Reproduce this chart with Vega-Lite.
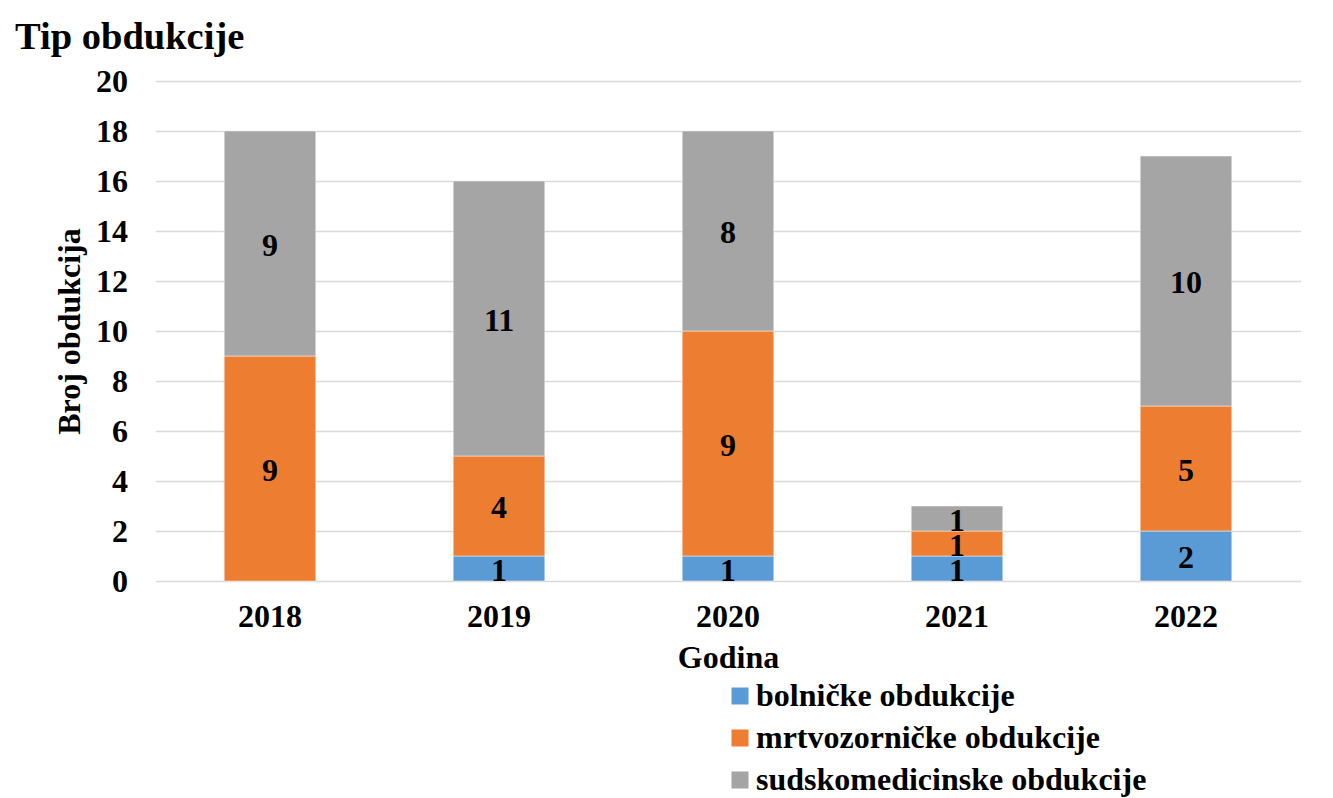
{
  "$schema": "https://vega.github.io/schema/vega-lite/v6.json",
  "autosize": "none",
  "width": 1145,
  "height": 500,
  "padding": {"left": 155.5, "top": 81, "right": 32.5, "bottom": 217},
  "background": "white",
  "config": {
    "font": "Liberation Serif",
    "view": {"stroke": null}
  },
  "title": {
    "text": "Tip obdukcije",
    "anchor": "start",
    "frame": "group",
    "dx": -140.5,
    "offset": 8,
    "font": "Liberation Serif",
    "fontSize": 38.5,
    "fontWeight": "bold",
    "color": "black"
  },
  "data": {
    "values": [
      {"Godina": "2018", "Tip": "mrtvozorničke obdukcije", "Broj": 9},
      {"Godina": "2018", "Tip": "sudskomedicinske obdukcije", "Broj": 9},
      {"Godina": "2019", "Tip": "bolničke obdukcije", "Broj": 1},
      {"Godina": "2019", "Tip": "mrtvozorničke obdukcije", "Broj": 4},
      {"Godina": "2019", "Tip": "sudskomedicinske obdukcije", "Broj": 11},
      {"Godina": "2020", "Tip": "bolničke obdukcije", "Broj": 1},
      {"Godina": "2020", "Tip": "mrtvozorničke obdukcije", "Broj": 9},
      {"Godina": "2020", "Tip": "sudskomedicinske obdukcije", "Broj": 8},
      {"Godina": "2021", "Tip": "bolničke obdukcije", "Broj": 1},
      {"Godina": "2021", "Tip": "mrtvozorničke obdukcije", "Broj": 1},
      {"Godina": "2021", "Tip": "sudskomedicinske obdukcije", "Broj": 1},
      {"Godina": "2022", "Tip": "bolničke obdukcije", "Broj": 2},
      {"Godina": "2022", "Tip": "mrtvozorničke obdukcije", "Broj": 5},
      {"Godina": "2022", "Tip": "sudskomedicinske obdukcije", "Broj": 10}
    ]
  },
  "encoding": {
    "x": {
      "field": "Godina",
      "type": "nominal",
      "scale": {"paddingInner": 0.6, "paddingOuter": 0.3},
      "axis": {
        "title": "Godina",
        "labelAngle": 0,
        "labelFont": "Liberation Serif",
        "labelFontSize": 32,
        "labelFontWeight": "bold",
        "labelColor": "black",
        "labelPadding": 20,
        "ticks": false,
        "domain": false,
        "titleFont": "Liberation Serif",
        "titleFontSize": 32,
        "titleFontWeight": "bold",
        "titleColor": "black",
        "titlePadding": 10
      }
    }
  },
  "layer": [
    {
      "mark": {"type": "bar", "stroke": "white", "strokeWidth": 0.8, "strokeOpacity": 0.6},
      "encoding": {
        "y": {
          "field": "Broj",
          "type": "quantitative",
          "stack": "zero",
          "scale": {"domain": [0, 20]},
          "axis": {
            "title": "Broj obdukcija",
            "values": [0, 2, 4, 6, 8, 10, 12, 14, 16, 18, 20],
            "labelFont": "Liberation Serif",
            "labelFontSize": 32,
            "labelFontWeight": "bold",
            "labelColor": "black",
            "labelPadding": 28,
            "ticks": false,
            "domain": false,
            "gridColor": "#d9d9d9",
            "gridWidth": 1.5,
            "titleFont": "Liberation Serif",
            "titleFontSize": 32,
            "titleFontWeight": "bold",
            "titleColor": "black",
            "titlePadding": 9
          }
        },
        "order": {"field": "Tip", "sort": "ascending"},
        "color": {
          "field": "Tip",
          "type": "nominal",
          "scale": {
            "domain": ["bolničke obdukcije", "mrtvozorničke obdukcije", "sudskomedicinske obdukcije"],
            "range": ["#5b9bd5", "#ed7d31", "#a5a5a5"]
          },
          "legend": {
            "title": null,
            "orient": "none",
            "legendX": 568.5,
            "legendY": 599,
            "direction": "vertical",
            "symbolType": "square",
            "symbolSize": 289,
            "symbolStrokeWidth": 0,
            "labelFont": "Liberation Serif",
            "labelFontSize": 32,
            "labelFontWeight": "bold",
            "labelColor": "black",
            "labelOffset": 0,
            "rowPadding": 10,
            "labelLimit": 700
          }
        }
      }
    },
    {
      "transform": [
        {"stack": "Broj", "groupby": ["Godina"], "sort": [{"field": "Tip", "order": "ascending"}], "as": ["b0", "b1"]},
        {"calculate": "(datum.b0 + datum.b1) / 2", "as": "mid"}
      ],
      "mark": {"type": "text", "font": "Liberation Serif", "fontSize": 32, "fontWeight": "bold", "color": "black", "baseline": "middle", "dy": 2},
      "encoding": {
        "y": {"field": "mid", "type": "quantitative"},
        "text": {"field": "Broj", "type": "quantitative"}
      }
    }
  ]
}
